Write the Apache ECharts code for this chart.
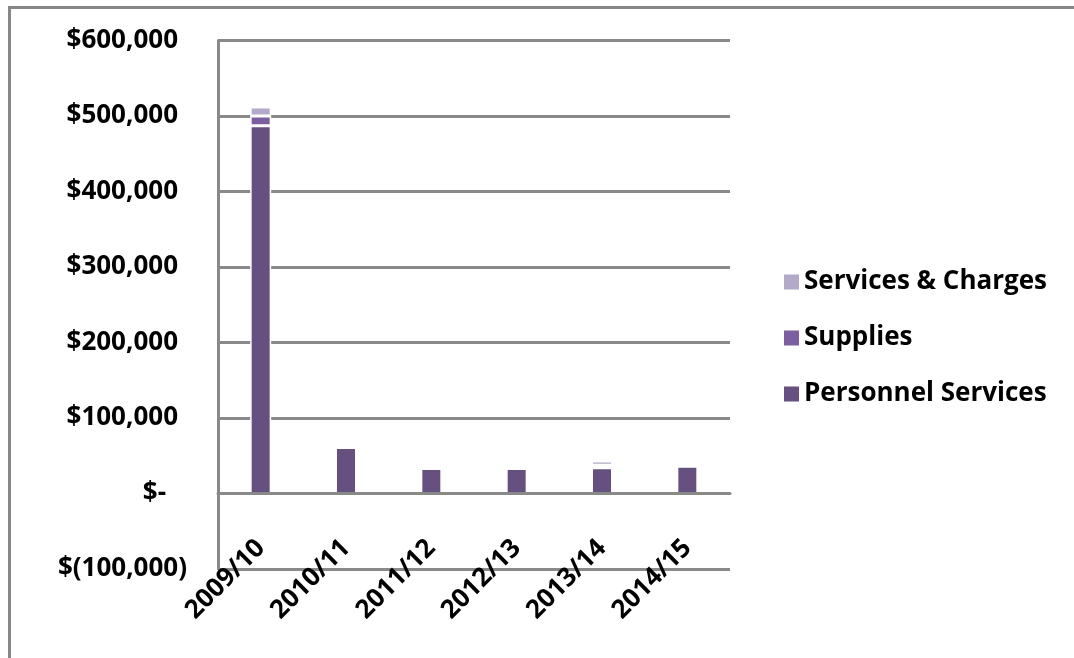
<!DOCTYPE html>
<html>
<head>
<meta charset="utf-8">
<script src="https://cdn.jsdelivr.net/npm/echarts@6/dist/echarts.min.js"></script>
<style>
  html, body { margin: 0; padding: 0; background: #ffffff; }
  #frame {
    position: absolute; left: 8px; top: 6px; width: 1066px; height: 652px;
    border-left: 3px solid #878787; border-top: 3px solid #878787; box-sizing: border-box;
  }
  #chart { position: absolute; left: 0; top: 0; width: 1074px; height: 658px; }
</style>
</head>
<body>
<div id="frame"></div>
<div id="chart"></div>
<script>
// Fiscal years on the category axis
const years = ['2009/10', '2010/11', '2011/12', '2012/13', '2013/14', '2014/15'];

// Spending by type (dollars)
const personnelServices = [487000, 61000, 33000, 33000, 34000, 36000];
const supplies          = [13000, 0, 0, 0, 3500, 0];
const servicesCharges   = [12000, 0, 0, 0, 5500, 0];

// Value axis range
const yMin = -100000;
const yMax = 600000;
const yStep = 100000;

const FONT = '"Open Sans", "Noto Sans", sans-serif';
const GRID_GRAY = '#898989';

// Accounting-style dollar labels: $600,000 / $- / $(100,000)
function dollars(v) {
  if (v === 0) return '{z|$-}';
  const s = Math.abs(v).toLocaleString('en-US');
  return v < 0 ? '{n|$(' + s + ')}' : '{p|$' + s + '}';
}

const labelFont = { fontFamily: FONT, fontWeight: 'bold', fontSize: 26, color: '#000' };

// Thin white outline separates the stacked segments
const barStyle = (color) => ({
  color: color,
  borderColor: '#ffffff',
  borderWidth: 1.5
});

const chart = echarts.init(document.getElementById('chart'), null, { renderer: 'canvas' });

chart.setOption({
  animation: false,
  backgroundColor: 'transparent',
  grid: { left: 218, right: 344, top: 40.5, bottom: 89, containLabel: false },
  legend: {
    orient: 'vertical',
    left: 779,
    top: 264,
    itemWidth: 15,
    itemHeight: 15,
    itemGap: 30,
    icon: 'rect',
    data: ['Services & Charges', 'Supplies', 'Personnel Services'],
    itemStyle: { borderWidth: 0 },
    textStyle: Object.assign({}, labelFont)
  },
  xAxis: [
    {
      type: 'category',
      data: years,
      position: 'bottom',
      z: 5,
      axisLine: { show: false, onZero: false },
      axisTick: { show: false },
      axisLabel: Object.assign({ interval: 0, rotate: 45, margin: -25 }, labelFont)
    },
    {
      // zero baseline drawn above the bars
      type: 'category',
      data: years,
      position: 'bottom',
      z: 10,
      axisLine: { show: true, onZero: true, lineStyle: { color: GRID_GRAY, width: 3 } },
      axisTick: { show: false },
      axisLabel: { show: false }
    }
  ],
  yAxis: {
    type: 'value',
    min: yMin,
    max: yMax,
    interval: yStep,
    axisLine: { show: true, lineStyle: { color: GRID_GRAY, width: 3 } },
    axisTick: { show: false },
    splitLine: { show: true, lineStyle: { color: GRID_GRAY, width: 3 } },
    axisLabel: {
      margin: 31,
      formatter: dollars,
      rich: {
        p: Object.assign({ padding: [0, 9, 0, 0] }, labelFont),
        z: Object.assign({ padding: [0, 21, 0, 0] }, labelFont),
        n: Object.assign({}, labelFont)
      }
    }
  },
  series: [
    {
      name: 'Personnel Services', type: 'bar', stack: 'spend', xAxisIndex: 0,
      barWidth: 21, data: personnelServices, itemStyle: barStyle('#65507f')
    },
    {
      name: 'Supplies', type: 'bar', stack: 'spend', xAxisIndex: 0,
      barWidth: 21, data: supplies, itemStyle: barStyle('#7c5fa0')
    },
    {
      name: 'Services & Charges', type: 'bar', stack: 'spend', xAxisIndex: 0,
      barWidth: 21, data: servicesCharges, itemStyle: barStyle('#b3a9c9')
    }
  ]
});
</script>
</body>
</html>
